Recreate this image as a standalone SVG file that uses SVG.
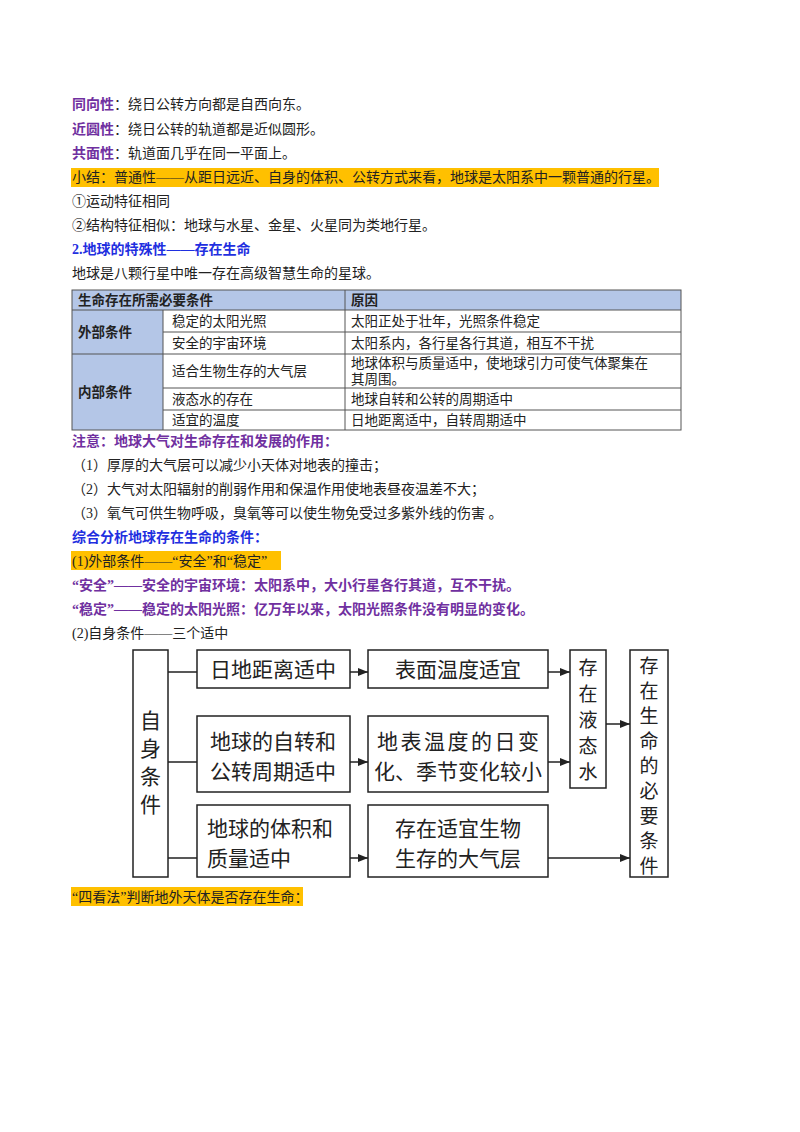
<svg xmlns="http://www.w3.org/2000/svg" width="800" height="1132" viewBox="0 0 800 1132">
<defs>
<marker id="ar" viewBox="0 0 10 10" refX="10" refY="5" markerWidth="7" markerHeight="7" orient="auto"><path d="M0,1 L10,5 L0,9 z" fill="#222"/></marker>
<style>
text{font-family:"Liberation Serif","Noto Sans CJK SC",serif;font-size:14px;fill:#222}
.p{fill:#7030a0;font-weight:bold}
.b{fill:#1f2fe0;font-weight:bold}
.t{font-size:13.5px}
.tb{font-size:13.5px;font-weight:bold}
.box{fill:#fff;stroke:#222;stroke-width:1.5}
.big{font-size:21px;font-family:"Noto Sans CJK SC",sans-serif}
.v{font-size:19px;font-family:"Noto Sans CJK SC",sans-serif}
.ln{stroke:#222;stroke-width:1.5;fill:none}
.cell{stroke:#555;stroke-width:1;fill:none}
</style>
</defs>
<rect width="800" height="1132" fill="#fff"/>
<text x="72" y="109"><tspan class="p">同向性</tspan>：绕日公转方向都是自西向东。</text>
<text x="72" y="134"><tspan class="p">近圆性</tspan>：绕日公转的轨道都是近似圆形。</text>
<text x="72" y="158"><tspan class="p">共面性</tspan>：轨道面几乎在同一平面上。</text>
<rect x="71" y="168" width="588" height="19" fill="#ffc000"/>
<text x="72" y="182">小结：普通性——从距日远近、自身的体积、公转方式来看，地球是太阳系中一颗普通的行星。</text>
<text x="72" y="206">①运动特征相同</text>
<text x="72" y="230">②结构特征相似：地球与水星、金星、火星同为类地行星。</text>
<text x="72" y="254" class="b">2.地球的特殊性——存在生命</text>
<text x="72" y="278">地球是八颗行星中唯一存在高级智慧生命的星球。</text>
<g id="table">
<rect x="72" y="290" width="609" height="20" fill="#b4c6e7"/>
<rect x="72" y="310" width="91" height="120" fill="#b4c6e7"/>
<rect x="72" y="290" width="609" height="140" class="cell"/>
<path class="cell" d="M72,310H681M163,332H681M72,354H681M163,388H681M163,410H681M163,310V430M345,290V430"/>
<text x="78" y="305" class="tb">生命存在所需必要条件</text>
<text x="351" y="305" class="tb">原因</text>
<text x="78" y="337" class="tb">外部条件</text>
<text x="78" y="397" class="tb">内部条件</text>
<text x="172" y="326" class="t">稳定的太阳光照</text>
<text x="351" y="326" class="t">太阳正处于壮年，光照条件稳定</text>
<text x="172" y="348" class="t">安全的宇宙环境</text>
<text x="351" y="348" class="t">太阳系内，各行星各行其道，相互不干扰</text>
<text x="172" y="376" class="t">适合生物生存的大气层</text>
<text x="351" y="368" class="t">地球体积与质量适中，使地球引力可使气体聚集在</text>
<text x="351" y="384" class="t">其周围。</text>
<text x="172" y="404" class="t">液态水的存在</text>
<text x="351" y="404" class="t">地球自转和公转的周期适中</text>
<text x="172" y="425" class="t">适宜的温度</text>
<text x="351" y="425" class="t">日地距离适中，自转周期适中</text>
</g>
<text x="72" y="446" class="p">注意：地球大气对生命存在和发展的作用：</text>
<text x="72" y="470">（1）厚厚的大气层可以减少小天体对地表的撞击；</text>
<text x="72" y="494">（2）大气对太阳辐射的削弱作用和保温作用使地表昼夜温差不大；</text>
<text x="72" y="518">（3）氧气可供生物呼吸，臭氧等可以使生物免受过多紫外线的伤害 。</text>
<text x="72" y="542" class="b">综合分析地球存在生命的条件：</text>
<rect x="71" y="551" width="210" height="19" fill="#ffc000"/>
<text x="72" y="566">(1)外部条件——“安全”和“稳定”</text>
<text x="72" y="590" class="p">“安全”——安全的宇宙环境：太阳系中，大小行星各行其道，互不干扰。</text>
<text x="72" y="614" class="p">“稳定”——稳定的太阳光照：亿万年以来，太阳光照条件没有明显的变化。</text>
<text x="72" y="638">(2)自身条件——三个适中</text>
<g id="n0"><rect class="box" x="133" y="650" width="35" height="227"/><text class="big" x="150.5" y="728" text-anchor="middle">自</text><text class="big" x="150.5" y="756" text-anchor="middle">身</text><text class="big" x="150.5" y="784" text-anchor="middle">条</text><text class="big" x="150.5" y="812" text-anchor="middle">件</text></g>
<g id="a1"><rect class="box" x="197" y="650" width="153" height="38"/><text class="big" x="273" y="677" text-anchor="middle">日地距离适中</text></g>
<g id="a2"><rect class="box" x="197" y="716" width="153" height="76"/><text class="big" x="273" y="749" text-anchor="middle">地球的自转和</text><text class="big" x="273" y="779" text-anchor="middle">公转周期适中</text></g>
<g id="a3"><rect class="box" x="197" y="805" width="153" height="72"/><text class="big" x="207" y="836">地球的体积和</text><text class="big" x="207" y="866">质量适中</text></g>
<g id="b1"><rect class="box" x="368" y="650" width="180" height="38"/><text class="big" x="458" y="677" text-anchor="middle">表面温度适宜</text></g>
<g id="b2"><rect class="box" x="368" y="716" width="180" height="76"/><text class="big" x="458" y="749" text-anchor="middle" textLength="162">地表温度的日变</text><text class="big" x="458" y="779" text-anchor="middle">化、季节变化较小</text></g>
<g id="b3"><rect class="box" x="368" y="805" width="180" height="72"/><text class="big" x="458" y="836" text-anchor="middle">存在适宜生物</text><text class="big" x="458" y="866" text-anchor="middle">生存的大气层</text></g>
<g id="w"><rect class="box" x="570" y="650" width="36" height="138"/><text class="v" x="588" y="675" text-anchor="middle">存</text><text class="v" x="588" y="701" text-anchor="middle">在</text><text class="v" x="588" y="727" text-anchor="middle">液</text><text class="v" x="588" y="753" text-anchor="middle">态</text><text class="v" x="588" y="779" text-anchor="middle">水</text></g>
<g id="r"><rect class="box" x="630" y="650" width="38" height="227"/><text class="v" x="649" y="673" text-anchor="middle">存</text><text class="v" x="649" y="698" text-anchor="middle">在</text><text class="v" x="649" y="723" text-anchor="middle">生</text><text class="v" x="649" y="748" text-anchor="middle">命</text><text class="v" x="649" y="773" text-anchor="middle">的</text><text class="v" x="649" y="798" text-anchor="middle">必</text><text class="v" x="649" y="823" text-anchor="middle">要</text><text class="v" x="649" y="848" text-anchor="middle">条</text><text class="v" x="649" y="873" text-anchor="middle">件</text></g>
<g id="connectors">
<path class="ln" d="M168,672H197M168,762H197M168,858H197"/>
<path class="ln" marker-end="url(#ar)" d="M350,672H368"/>
<path class="ln" marker-end="url(#ar)" d="M350,762H368"/>
<path class="ln" marker-end="url(#ar)" d="M350,858H368"/>
<path class="ln" marker-end="url(#ar)" d="M548,672H570"/>
<path class="ln" marker-end="url(#ar)" d="M548,762H570"/>
<path class="ln" marker-end="url(#ar)" d="M606,724H630"/>
<path class="ln" marker-end="url(#ar)" d="M548,858H630"/>
</g>
<rect x="71" y="887" width="232" height="19" fill="#ffc000"/>
<text x="72" y="902">“四看法”判断地外天体是否存在生命：</text>
</svg>
